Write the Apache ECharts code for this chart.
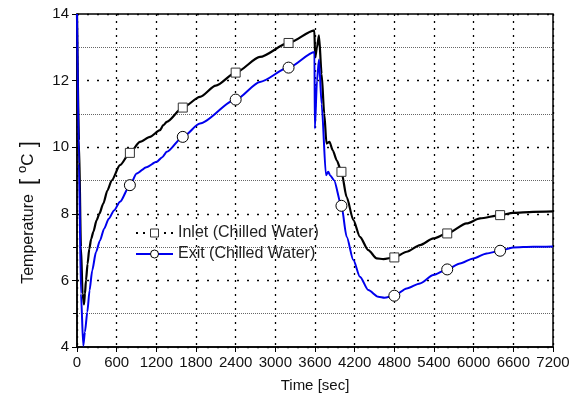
<!DOCTYPE html>
<html>
<head>
<meta charset="utf-8">
<script src="https://cdn.jsdelivr.net/npm/echarts@6/dist/echarts.min.js"></script>
<style>
html,body{margin:0;padding:0;background:#fff;}
#chart{width:581px;height:407px;}
</style>
</head>
<body>
<div id="chart"></div>
<script>
// ---- data ----
var seriesNames = ['Inlet (Chilled Water)', 'Exit (Chilled Water)'];
var xTicks = [0, 600, 1200, 1800, 2400, 3000, 3600, 4200, 4800, 5400, 6000, 6600, 7200];
var yTicks = [4, 6, 8, 10, 12, 14];
var markerTimes = [800, 1600, 2400, 3200, 4000, 4800, 5600, 6400];

var inletTime = [0, 30, 60, 85, 106, 120, 136, 160, 186, 215, 247, 297, 338, 398, 460, 524, 650, 800, 953, 1104, 1255, 1305, 1357, 1600, 1860, 2100, 2400, 2768, 3200, 3590, 3603, 3630, 3660, 3700, 3740, 3774, 3819, 3870, 3930, 4000, 4079, 4180, 4280, 4406, 4533, 4634, 4800, 4987, 5188, 5390, 5600, 5894, 6096, 6400, 6595, 6900, 7200];
var inletTemp = [14.0, 10.2, 7.0, 5.6, 5.28, 5.6, 6.0, 6.5, 6.95, 7.25, 7.46, 7.81, 8.0, 8.31, 8.7, 9.0, 9.46, 9.83, 10.16, 10.31, 10.51, 10.66, 10.76, 11.19, 11.51, 11.85, 12.24, 12.71, 13.13, 13.51, 12.7, 13.0, 13.36, 12.2, 11.0, 10.11, 10.16, 9.9, 9.6, 9.26, 8.5, 7.81, 7.31, 6.91, 6.66, 6.64, 6.69, 6.86, 7.06, 7.26, 7.41, 7.71, 7.86, 7.96, 8.03, 8.06, 8.07];

var exitTime = [0, 30, 60, 95, 120, 156, 190, 230, 287, 348, 410, 480, 560, 650, 800, 903, 1050, 1205, 1290, 1357, 1600, 1860, 2400, 2768, 3200, 3592, 3598, 3630, 3660, 3700, 3766, 3800, 3830, 3887, 4000, 4079, 4180, 4280, 4406, 4557, 4650, 4800, 4987, 5188, 5390, 5600, 5793, 5995, 6197, 6400, 6595, 6900, 7200];
var exitTemp = [14.0, 9.5, 5.6, 4.04, 4.45, 5.05, 5.7, 6.3, 6.85, 7.2, 7.55, 7.85, 8.1, 8.36, 8.86, 9.21, 9.4, 9.56, 9.7, 9.86, 10.31, 10.71, 11.43, 11.96, 12.39, 12.86, 10.56, 12.0, 12.63, 11.3, 9.16, 9.26, 9.15, 9.01, 8.24, 7.31, 6.61, 6.11, 5.71, 5.51, 5.48, 5.54, 5.76, 5.91, 6.16, 6.33, 6.51, 6.66, 6.81, 6.89, 6.99, 7.01, 7.02];

// ---- build ----
function build(times, temps, sym, size) {
  var out = [];
  for (var i = 0; i < times.length; i++) {
    var isM = markerTimes.indexOf(times[i]) >= 0;
    out.push({ value: [times[i], temps[i]], symbol: isM ? sym : 'none', symbolSize: size });
  }
  return out;
}

var FONT = 'Liberation Sans, Arial, sans-serif';
var chart = echarts.init(document.getElementById('chart'), null, { renderer: 'canvas' });

chart.setOption({
  animation: false,
  backgroundColor: '#fff',
  textStyle: { fontFamily: FONT },
  grid: { left: 77, right: 28, top: 14, bottom: 60, show: true, borderColor: '#000', borderWidth: 1.5, backgroundColor: 'transparent' },
  legend: {
    orient: 'vertical',
    left: 135,
    top: 225,
    padding: 0,
    itemWidth: 37,
    itemHeight: 10,
    itemGap: 5,
    textStyle: { fontSize: 16, color: '#222', fontFamily: FONT },
    data: [
      { name: seriesNames[0], lineStyle: { type: [2, 5], width: 2, color: '#000' }, itemStyle: { color: '#fff', borderColor: '#333', borderWidth: 1 } },
      { name: seriesNames[1], itemStyle: { color: '#fff', borderColor: '#000', borderWidth: 1 } }
    ]
  },
  xAxis: {
    type: 'value',
    min: xTicks[0],
    max: xTicks[xTicks.length - 1],
    interval: 600,
    name: 'Time [sec]',
    nameLocation: 'middle',
    nameGap: 31,
    nameTextStyle: { fontSize: 15, color: '#111', fontFamily: FONT },
    axisLine: { lineStyle: { color: '#000', width: 1.5 } },
    axisTick: { show: true, length: 5, lineStyle: { color: '#000' } },
    axisLabel: { fontSize: 15, color: '#111', margin: 8, fontFamily: FONT, formatter: function (v) { return String(v); } },
    splitLine: { show: true, lineStyle: { color: '#000', type: [2, 5], width: 1.3 } }
  },
  yAxis: {
    type: 'value',
    min: yTicks[0],
    max: yTicks[yTicks.length - 1],
    interval: 2,
    name: 'Temperature  {b|[ }{s|o}{c|C}{b| ]}',
    nameLocation: 'middle',
    nameRotate: 90,
    nameGap: 36,
    nameTextStyle: {
      fontSize: 16, color: '#111', fontFamily: FONT, padding: [0, 64, 0, 0],
      rich: {
        b: { fontSize: 22, color: '#111', fontFamily: FONT },
        s: { fontSize: 13, color: '#111', fontFamily: FONT, padding: [0, 0, 12, 0] },
        c: { fontSize: 17, color: '#111', fontFamily: FONT }
      }
    },
    axisLine: { lineStyle: { color: '#000', width: 1.5 } },
    axisTick: { show: true, length: 5, lineStyle: { color: '#000' } },
    minorTick: { show: true, splitNumber: 2, length: 4, lineStyle: { color: '#000' } },
    axisLabel: { fontSize: 15, color: '#111', margin: 8, fontFamily: FONT },
    splitLine: { show: true, lineStyle: { color: '#000', type: [2, 8], width: 1.3 } },
    minorSplitLine: { show: true, lineStyle: { color: '#666', type: [1, 1], width: 1 } }
  },
  series: [
    {
      name: seriesNames[0],
      type: 'line',
      symbol: 'rect',
      symbolSize: 9,
      showSymbol: true,
      smooth: 0.25,
      smoothMonotone: 'x',
      data: build(inletTime, inletTemp, 'rect', 9),
      lineStyle: { color: '#000', width: 2.2 },
      itemStyle: { color: '#fff', borderColor: '#333', borderWidth: 1 },
      z: 3
    },
    {
      name: seriesNames[1],
      type: 'line',
      symbol: 'circle',
      symbolSize: 11,
      showSymbol: true,
      smooth: 0.25,
      smoothMonotone: 'x',
      data: build(exitTime, exitTemp, 'circle', 11),
      lineStyle: { color: '#0000ee', width: 2 },
      itemStyle: { color: '#fff', borderColor: '#000', borderWidth: 1 },
      z: 4
    }
  ]
});
</script>
</body>
</html>
